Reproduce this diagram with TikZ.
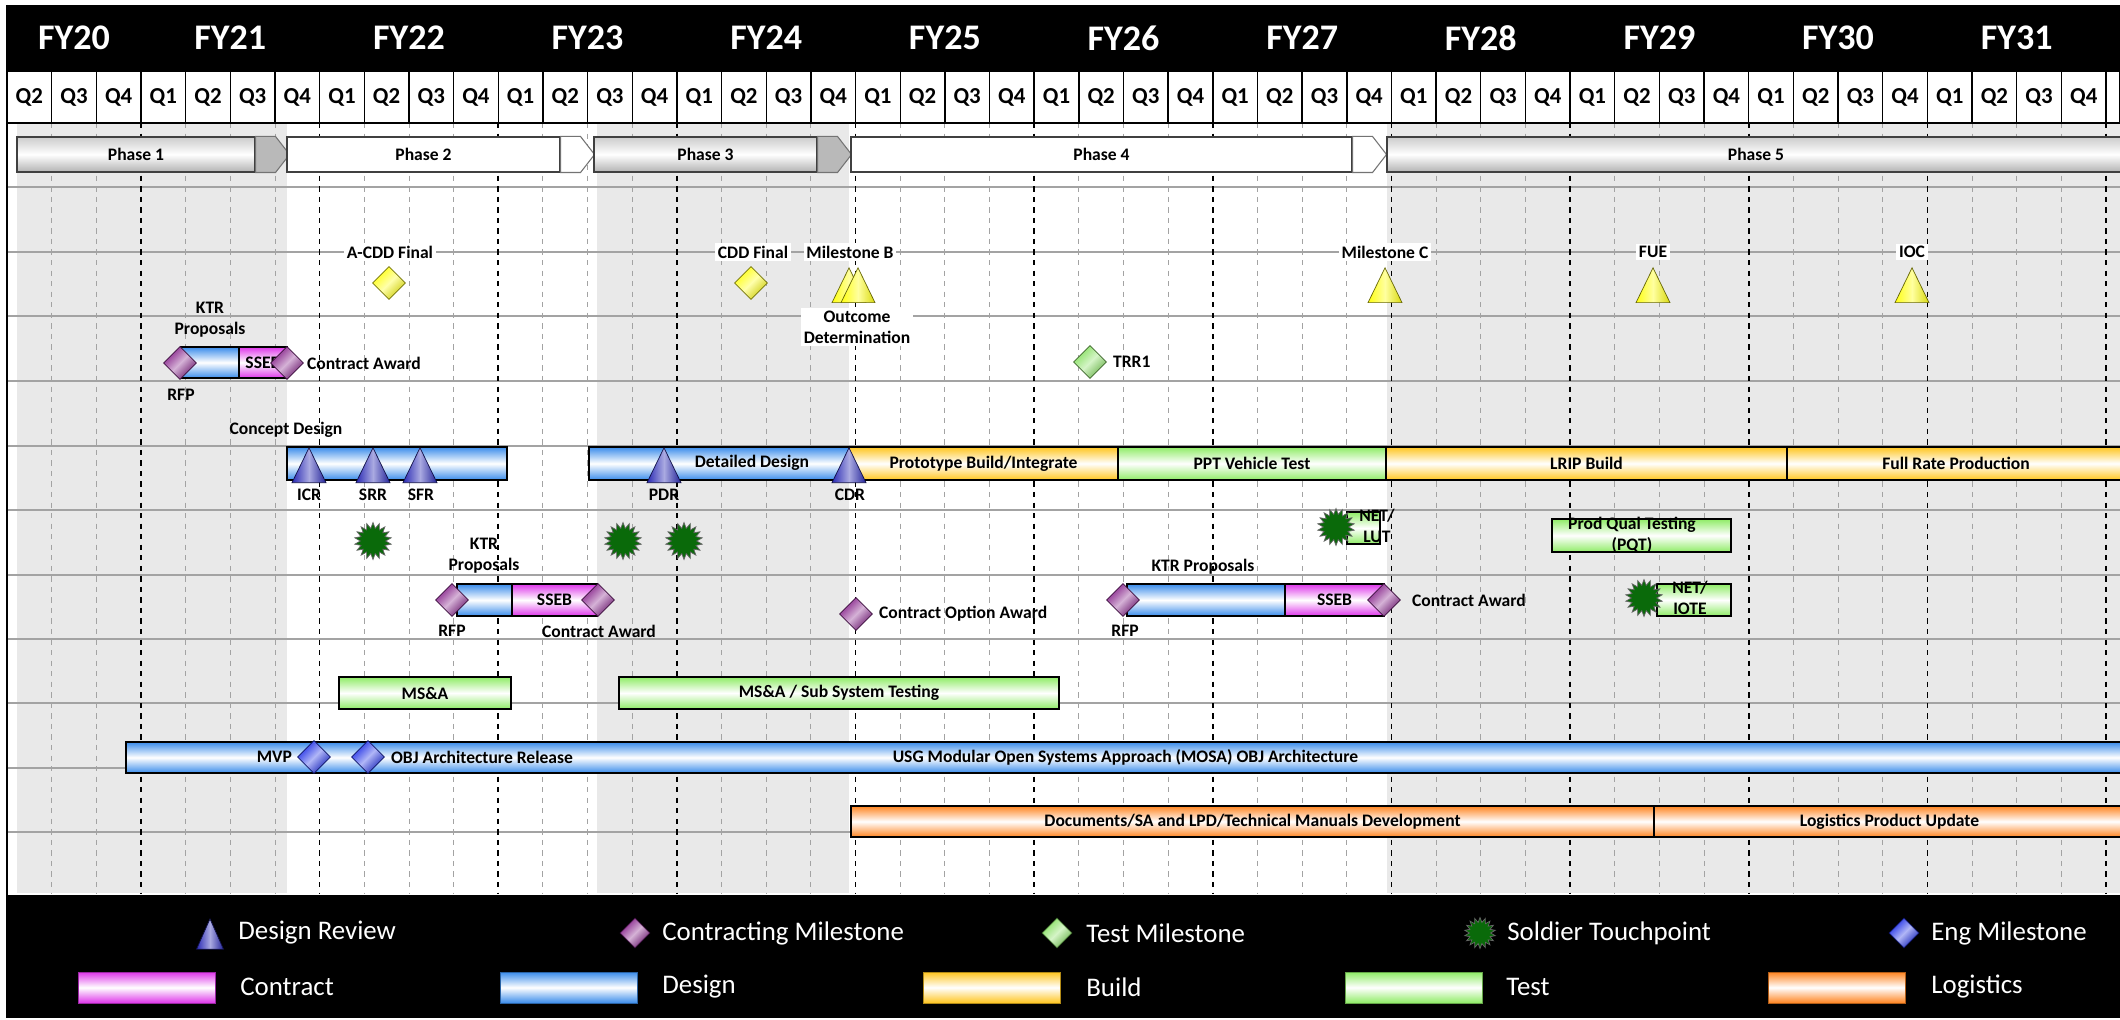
\documentclass[tikz,border=0pt]{standalone}
\usepackage{fontspec}
\setmainfont{Carlito}
\usetikzlibrary{positioning}
\usetikzlibrary{fit}
\usetikzlibrary{shapes.geometric}
\usetikzlibrary{calc}

\definecolor{bandgray}{HTML}{E9E9E9}
\definecolor{rowgray}{HTML}{A3A3A3}
\definecolor{dsnblue}{HTML}{3A8CEB}
\definecolor{ktrpink}{HTML}{DE36EA}
\definecolor{bldgold}{HTML}{FFC51F}
\definecolor{tstgreen}{HTML}{8FEC66}
\definecolor{logorange}{HTML}{FF8420}
\definecolor{kmpurple}{HTML}{86228A}
\definecolor{drnavy}{HTML}{2A2AB4}
\definecolor{engblue}{HTML}{1E2EE6}
\definecolor{soldgreen}{HTML}{0A6A0A}
\definecolor{msyellow}{HTML}{FFFF10}
\definecolor{trrgreen}{HTML}{86E060}

\tikzset{
  lbl/.style={font=\bfseries\fontsize{10}{12}\selectfont, inner sep=1pt},
  online/.style={lbl, fill=white, inner sep=1.5pt},
  fyhead/.style={font=\bfseries\fontsize{20.5}{22}\selectfont, text=white},
  qhead/.style={font=\bfseries\fontsize{13}{14}\selectfont},
  keytext/.style={font=\fontsize{15.3}{17}\selectfont, text=white, anchor=west, inner sep=0pt},
  qline/.style={rowgray, line width=0.5pt, dash pattern=on 3pt off 3pt},
  fyline/.style={black, line width=0.9pt, dash pattern=on 3pt off 3pt},
  rowline/.style={rowgray, line width=1pt},
  gbar/.style={draw=black, line width=0.6pt, inner sep=0pt, top color=#1, bottom color=#1, middle color=white},
  keybar/.style={draw=#1!70!black, line width=0.4pt, inner sep=0pt, top color=#1, bottom color=#1, middle color=white},
  phsilver/.style={draw=black!75, line width=0.6pt, inner sep=0pt, top color=gray!40, bottom color=gray!60, middle color=white},
  phwhite/.style={draw=black!75, line width=0.6pt, inner sep=0pt, fill=white},
  chev/.style={draw=black!55, line width=0.6pt, fill=#1},
  gem/.style={diamond, minimum size=0.66cm, inner sep=0pt, draw=#1!45!black, line width=0.4pt, top color=#1, bottom color=#1!80!black, middle color=#1!35!white, shading angle=45},
  tri/.style={isosceles triangle, isosceles triangle apex angle=52, shape border rotate=90, minimum width=0.68cm, minimum height=0.68cm, inner sep=0pt, draw=#1!40!black, line width=0.4pt, left color=#1, right color=#1!85!black, middle color=#1!40!white},
  burst/.style={star, star points=18, star point ratio=1.45, minimum size=0.74cm, inner sep=0pt, fill=soldgreen, draw=black!60},
}

\begin{document}
\begin{tikzpicture}[x=0.02cm, y=-0.02cm]
  \useasboundingbox (0,0) rectangle (2120,1020);
  \fill[white] (0,0) rectangle (2120,1020);

  % phase shading and grid
  \fill[bandgray] (17,123) rectangle (287,893);
  \fill[bandgray] (597,123) rectangle (849,893);
  \fill[bandgray] (1387,123) rectangle (2120,893);
  \foreach \y in {187,252,316,381,446,510,575,639,703,768,832}
    \draw[rowline] (7,\y) -- (2120,\y);
  \foreach \k in {1,...,47} {
    \pgfmathsetmacro{\xa}{7+44.66*\k}
    \pgfmathtruncatemacro{\isfy}{mod(\k+1,4)==0}
    \ifnum\isfy=1 \draw[fyline] (\xa,123) -- (\xa,893);
    \else \draw[qline] (\xa,123) -- (\xa,893); \fi
  }

  % header
  \fill[black] (7,5) rectangle (2120,71);
  \draw[black, line width=0.8pt] (7,71) rectangle (2120,123);
  \node[fyhead] (fy20) at (74,38) {FY20};
  \foreach \yr in {21,...,31} {
    \pgfmathsetmacro{\xc}{7+44.66*(4*\yr-79)}
    \node[fyhead] (fy\yr) at (\xc,38) {FY\yr};
  }
  \foreach \k in {0,...,46} {
    \pgfmathsetmacro{\xa}{7+44.66*\k}
    \pgfmathsetmacro{\xm}{29.33+44.66*\k}
    \pgfmathtruncatemacro{\qn}{mod(\k+1,4)+1}
    \draw[black, line width=0.8pt] (\xa,71) -- (\xa,123);
    \node[qhead] (q\k) at (\xm,97) {Q\qn};
  }
  \draw[black, line width=0.8pt] (2106,71) -- (2106,123);
  \draw[black, line width=0.8pt] (7,5) -- (7,1018);

  % phases
  \node[phsilver, fit={(17,137) (255,172)}, label={[lbl]center:Phase 1}] (ph1) {};
  \draw[chev=gray!55] (ph1.north east) -- ++(20,0) -- ($(ph1.east)+(34,0)$) -- ($(ph1.south east)+(20,0)$) -- (ph1.south east) -- cycle;
  \node[phwhite, fit={(287,137) (560,172)}, label={[lbl]center:Phase 2}] (ph2) {};
  \draw[chev=white] (ph2.north east) -- ++(20,0) -- ($(ph2.east)+(34,0)$) -- ($(ph2.south east)+(20,0)$) -- (ph2.south east) -- cycle;
  \node[phsilver, fit={(594,137) (817,172)}, label={[lbl]center:Phase 3}] (ph3) {};
  \draw[chev=gray!55] (ph3.north east) -- ++(20,0) -- ($(ph3.east)+(34,0)$) -- ($(ph3.south east)+(20,0)$) -- (ph3.south east) -- cycle;
  \node[phwhite, fit={(851,137) (1352,172)}, label={[lbl]center:Phase 4}] (ph4) {};
  \draw[chev=white] (ph4.north east) -- ++(20,0) -- ($(ph4.east)+(34,0)$) -- ($(ph4.south east)+(20,0)$) -- (ph4.south east) -- cycle;
  \node[phsilver, fit={(1387,137) (2125,172)}, label={[lbl]center:Phase 5}] (ph5) {};

  % acquisition milestones
  \node[gem=msyellow] (acdd) at (389,283) {};
  \node[online] (acddl) at (390,252) {A-CDD Final};
  \node[gem=msyellow] (cdd) at (751,283) {};
  \node[online] (cddl) at (753,252) {CDD Final};
  \node[tri=msyellow, anchor=apex] (msb1) at (849,267) {};
  \node[tri=msyellow, anchor=apex] (msb2) at (858,267) {};
  \node[online] (msbl) at (850,252) {Milestone B};
  \node[online, align=center] (outc) at (857,327) {Outcome\\Determination};
  \node[tri=msyellow, anchor=apex] (msc) at (1385,267) {};
  \node[online] (mscl) at (1385,252) {Milestone C};
  \node[tri=msyellow, anchor=apex] (fue) at (1653,267) {};
  \node[online] (fuel) at (1653,252) {FUE};
  \node[tri=msyellow, anchor=apex] (ioc) at (1912,267) {};
  \node[online] (iocl) at (1912,252) {IOC};

  % first contract
  \node[gbar=dsnblue, fit={(181,347) (239,378)}] (ktr1) {};
  \node[gbar=ktrpink, fit={(239,347) (287,378)}, label={[lbl]center:SSEB}] (sseb1) {};
  \node[gem=kmpurple] (rfp1) at (180,363) {};
  \node[gem=kmpurple] (award1) at (287,363) {};
  \node[lbl, align=center] (ktrl1) at (210,320) {KTR\\Proposals};
  \node[lbl] (rfpl1) at (181,395) {RFP};
  \node[lbl, anchor=west] (awardl1) at (305,363) {Contract Award};
  \node[gem=trrgreen] (trr1) at (1090,362) {};
  \node[lbl, anchor=west] (trrl) at (1111,362) {TRR1};

  % design / build / test
  \node[lbl] (cdsnl) at (286,430) {Concept Design};
  \node[gbar=dsnblue, fit={(287,447) (507,480)}] (cdsn) {};
  \node[gbar=dsnblue, fit={(589,447) (849,480)}] (ddsn) {};
  \node[lbl] (ddsnl) at (752,463) {Detailed Design};
  \node[gbar=bldgold, fit={(849,447) (1118,480)}, label={[lbl]center:Prototype Build/Integrate}] (proto) {};
  \node[gbar=tstgreen, fit={(1118,447) (1386,480)}, label={[lbl]center:PPT Vehicle Test}] (ppt) {};
  \node[gbar=bldgold, fit={(1386,447) (1787,480)}, label={[lbl]center:LRIP Build}] (lrip) {};
  \node[gbar=bldgold, fit={(1787,447) (2125,480)}, label={[lbl]center:Full Rate Production}] (frp) {};
  \node[tri=drnavy, anchor=apex] (icr) at (309,447) {};
  \node[tri=drnavy, anchor=apex] (srr) at (373,447) {};
  \node[tri=drnavy, anchor=apex] (sfr) at (420,447) {};
  \node[tri=drnavy, anchor=apex] (pdr) at (664,447) {};
  \node[tri=drnavy, anchor=apex] (cdr) at (849,447) {};
  \node[lbl] (icrl) at (309,495) {ICR};
  \node[lbl] (srrl) at (373,495) {SRR};
  \node[lbl] (sfrl) at (421,495) {SFR};
  \node[lbl] (pdrl) at (664,495) {PDR};
  \node[lbl] (cdrl) at (850,495) {CDR};

  % soldier touchpoints
  \node[burst] (st1) at (373,541) {};
  \node[burst] (st2) at (623,541) {};
  \node[burst] (st3) at (684,541) {};
  \node[gbar=tstgreen, fit={(1347,512) (1380,544)}] (netlut) {};
  \node[burst] (st4) at (1336,527) {};
  \node[lbl, align=center] (netlutl) at (1377,526) {NET/\\LUT};
  \node[gbar=tstgreen, fit={(1552,519) (1731,552)}] (pqt) {};
  \node[lbl, align=center] (pqtl) at (1632,535) {Prod Qual Testing\\(PQT)};
  \node[gbar=tstgreen, fit={(1657,584) (1731,616)}] (netiote) {};
  \node[burst] (st5) at (1644,598) {};
  \node[lbl, align=center] (netiotel) at (1690,598) {NET/\\IOTE};

  % second and third contract
  \node[lbl, align=center] (ktrl2) at (484,556) {KTR\\Proposals};
  \node[gbar=dsnblue, fit={(457,584) (512,616)}] (ktr2) {};
  \node[gbar=ktrpink, fit={(512,584) (597,616)}, label={[lbl]center:SSEB}] (sseb2) {};
  \node[gem=kmpurple] (rfp2) at (452,600) {};
  \node[gem=kmpurple] (award2) at (598,600) {};
  \node[lbl] (rfpl2) at (452,631) {RFP};
  \node[lbl] (awardl2) at (599,631) {Contract Award};
  \node[gem=kmpurple] (optaward) at (856,614) {};
  \node[lbl, anchor=west] (optawardl) at (877,614) {Contract Option Award};
  \node[lbl] (ktrl3) at (1203,567) {KTR Proposals};
  \node[gbar=dsnblue, fit={(1127,584) (1285,616)}] (ktr3) {};
  \node[gbar=ktrpink, fit={(1285,584) (1384,616)}, label={[lbl]center:SSEB}] (sseb3) {};
  \node[gem=kmpurple] (rfp3) at (1123,600) {};
  \node[gem=kmpurple] (award3) at (1384,600) {};
  \node[lbl] (rfpl3) at (1125,631) {RFP};
  \node[lbl, anchor=west] (awardl3) at (1410,600) {Contract Award};

  % MS&A, MOSA, logistics
  \node[gbar=tstgreen, fit={(339,677) (511,709)}, label={[lbl]center:MS\&A}] (msa) {};
  \node[gbar=tstgreen, fit={(619,677) (1059,709)}, label={[lbl]center:MS\&A / Sub System Testing}] (msasub) {};
  \node[gbar=dsnblue, fit={(126,742) (2125,773)}, label={[lbl]center:USG Modular Open Systems Approach (MOSA) OBJ Architecture}] (mosa) {};
  \node[gem=engblue] (mvp) at (314,757) {};
  \node[gem=engblue] (objrel) at (368,757) {};
  \node[lbl, anchor=east] (mvpl) at (294,757) {MVP};
  \node[lbl, anchor=west] (objrell) at (389,757) {OBJ Architecture Release};
  \node[gbar=logorange, fit={(851,806) (1654,837)}, label={[lbl]center:Documents/SA and LPD/Technical Manuals Development}] (docs) {};
  \node[gbar=logorange, fit={(1654,806) (2125,837)}, label={[lbl]center:Logistics Product Update}] (lpu) {};

  % legend
  \fill[black] (7,895) rectangle (2120,1018);
  \node[tri=drnavy, isosceles triangle apex angle=48, minimum width=0.54cm, minimum height=0.54cm, anchor=apex] (kdr) at (210,918) {};
  \node[keytext] (kdrl) at (238,933) {Design Review};
  \node[gem=kmpurple, minimum size=0.6cm] (kkm) at (635,933) {};
  \node[keytext] (kkml) at (662,933) {Contracting Milestone};
  \node[gem=trrgreen, minimum size=0.6cm] (ktm) at (1057,933) {};
  \node[keytext] (ktml) at (1086,933) {Test Milestone};
  \node[burst, minimum size=0.62cm] (kst) at (1480,933) {};
  \node[keytext] (kstl) at (1507,933) {Soldier Touchpoint};
  \node[gem=engblue, minimum size=0.6cm] (kem) at (1904,933) {};
  \node[keytext] (keml) at (1931,933) {Eng Milestone};
  \node[keybar=ktrpink, fit={(78,972) (215,1003)}] (kcon) {};
  \node[keytext] (kconl) at (240,987) {Contract};
  \node[keybar=dsnblue, fit={(500,972) (637,1003)}] (kdsn) {};
  \node[keytext] (kdsnl) at (662,987) {Design};
  \node[keybar=bldgold, fit={(923,972) (1060,1003)}] (kbld) {};
  \node[keytext] (kbldl) at (1086,987) {Build};
  \node[keybar=tstgreen, fit={(1345,972) (1482,1003)}] (ktst) {};
  \node[keytext] (ktstl) at (1506,987) {Test};
  \node[keybar=logorange, fit={(1768,972) (1905,1003)}] (klog) {};
  \node[keytext] (klogl) at (1931,987) {Logistics};
\end{tikzpicture}
\end{document}
